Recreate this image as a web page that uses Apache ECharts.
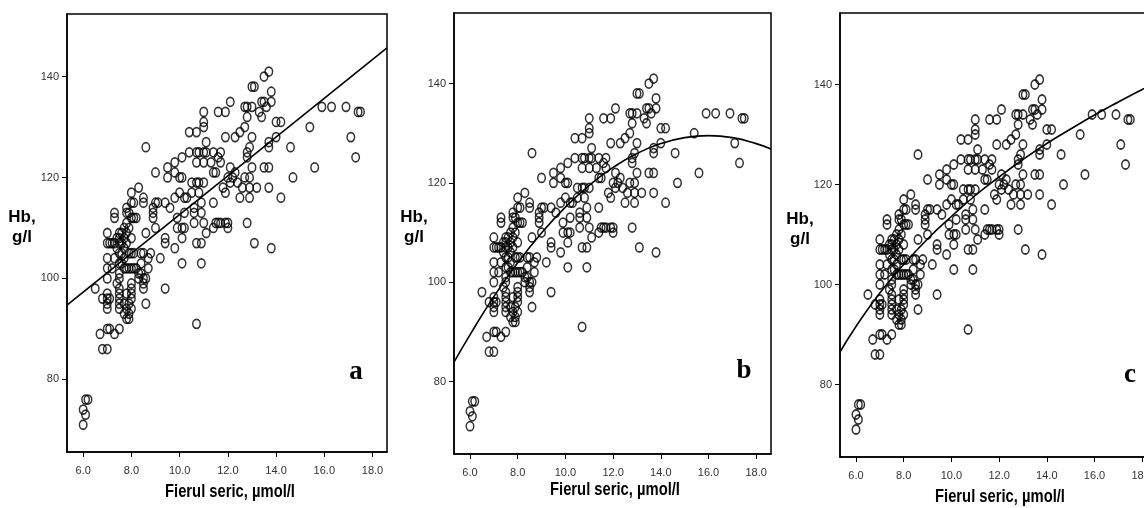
<!DOCTYPE html>
<html><head><meta charset="utf-8">
<script src="https://cdn.jsdelivr.net/npm/echarts@6/dist/echarts.min.js"></script>
<style>html,body{margin:0;padding:0;background:#fff}#c{width:1144px;height:508px}</style>
</head><body><div id="c"></div>
<script>
// Tick labels
const xTicks = [6, 8, 10, 12, 14, 16, 18];
const yTicks = [80, 100, 120, 140];
const panelLetters = ['a', 'b', 'c'];
const xTitle = 'Fierul seric, µmol/l';
const yTitle = 'Hb,\ng/l';

// Observations: [serum iron µmol/l, Hb g/l] (same data in all three panels)
const observations = [
[6.0,71],[6.0,74],[6.1,73],[6.1,76],[6.2,76],
[6.5,98],[6.7,89],[6.8,86],[7.0,86],[6.8,96],
[7.0,90],[7.1,90],[7.3,89],[7.5,90],
[7.0,94],[7.0,95],[7.0,96],[7.0,97],[7.0,100],[7.0,102],[7.0,104],[7.0,107],[7.0,109],
[7.1,96],[7.1,107],[7.2,107],[7.2,102],[7.3,113],[7.3,112],
[7.3,104],[7.3,107],[7.4,106],[7.4,108],[7.5,109],[7.5,108],[7.5,107],[7.5,105],[7.5,103],
[7.4,99],[7.5,101],[7.5,100],[7.5,98],[7.5,97],[7.5,96],[7.5,95],[7.5,94],
[7.6,109],[7.6,107],[7.6,105],[7.6,103],[7.7,108],[7.7,110],[7.7,106],[7.7,104],[7.7,102],
[7.7,93],[7.7,95],[7.8,113],[7.8,114],[7.8,111],[7.8,109],[7.8,107],[7.8,102],[7.8,97],
[7.8,94],[7.8,92],[7.9,92],[7.9,93],[7.9,95],[7.9,110],[7.9,113],[7.9,105],[7.9,102],
[8.0,117],[8.0,115],[8.0,112],[8.0,108],[8.0,105],[8.0,102],[8.0,99],[8.0,98],[8.0,97],
[8.0,96],[8.0,94],[8.1,102],[8.1,105],[8.1,112],[8.1,115],[8.2,112],[8.2,102],
[8.3,118],[8.3,101],[8.3,100],[8.4,103],[8.4,105],[8.4,101],[8.5,105],[8.5,100],[8.5,99],
[8.5,98],[8.5,116],[8.5,115],[8.6,95],[8.6,126],[8.6,100],[8.6,109],[8.7,102],[8.7,104],[8.8,105],
[8.9,114],[8.9,113],[8.9,112],[9.0,115],[9.0,121],[9.0,110],[9.1,115],[9.2,104],[9.4,98],
[9.4,115],[9.4,108],[9.4,107],[9.5,122],[9.5,120],[9.6,114],[9.8,116],[9.8,123],[9.8,121],
[9.9,112],[9.9,110],[9.8,106],[10.0,117],[10.0,120],[10.1,120],[10.1,124],[10.1,110],
[10.1,108],[10.1,103],[10.2,116],[10.2,113],[10.2,110],[10.3,116],[10.4,125],[10.4,129],
[10.5,119],[10.5,117],[10.6,114],[10.6,113],[10.6,111],[10.7,129],[10.7,125],[10.7,123],
[10.7,119],[10.7,107],[10.7,91],[10.8,125],[10.8,119],[10.8,117],[10.9,115],[10.9,113],
[10.9,107],[10.9,103],[11.0,133],[11.0,131],[11.0,130],[11.0,125],[11.0,123],[11.0,119],
[11.0,111],[11.1,127],[11.1,125],[11.1,109],[11.3,123],[11.4,125],[11.4,121],[11.4,115],
[11.4,110],[11.5,121],[11.5,111],[11.6,133],[11.6,124],[11.6,111],[11.7,125],[11.7,123],
[11.7,111],[11.8,118],[11.9,133],[11.9,128],[11.9,117],[11.9,111],[12.0,120],[12.0,111],
[12.0,110],[12.1,135],[12.1,122],[12.1,119],[12.2,120],[12.3,128],[12.3,121],[12.4,119],
[12.5,129],[12.5,116],[12.6,118],[12.7,134],[12.7,130],[12.7,120],[12.8,134],[12.8,132],
[12.8,125],[12.8,124],[12.8,111],[12.9,126],[12.9,118],[12.9,116],[12.9,120],[13.0,138],
[13.0,134],[13.0,128],[13.0,122],[13.1,138],[13.1,107],[13.2,118],[13.3,133],[13.4,132],
[13.4,135],[13.5,135],[13.5,140],[13.5,122],[13.6,134],[13.7,141],[13.7,127],[13.7,126],
[13.7,122],[13.7,118],[13.8,137],[13.8,135],[13.8,106],[14.0,131],[14.0,128],[14.2,131],
[14.2,116],[14.6,126],[14.7,120],[15.4,130],[15.6,122],[15.9,134],[16.3,134],[16.9,134],
[17.1,128],[17.3,124],[17.4,133],[17.5,133]
];

// Fitted curves: [iron, Hb]
const linearFit = [[5.33, 94.7], [18.6, 145.7]];
const quadraticFit = [[5.33,83.9],[6,89.4],[7,97.1],[8,103.9],[9,109.9],[10,115.1],[11,119.5],[12,123.1],[13,125.9],[14,127.9],[15,129.1],[16,129.5],[17,129.1],[18,127.9],[18.62,126.8]];
const logFit = [[5.33,86.5],[6,91.6],[7,98.3],[8,104.0],[9,109.1],[10,113.6],[11,117.8],[12,121.5],[13,125.0],[14,128.2],[15,131.1],[16,133.9],[17,136.5],[18,139.0],[18.7,140.6]];
const fits = [linearFit, quadraticFit, logFit];

// Layout per panel (pixels) and axis extents
const panels = [
  {left: 67, right: 757, top: 14, bottom: 56, xMin: 5.33, xMax: 18.6, yMin: 65.6, yMax: 152.4},
  {left: 454, right: 373, top: 13, bottom: 54, xMin: 5.33, xMax: 18.62, yMin: 65.4, yMax: 154.2},
  {left: 840, right: -13, top: 13, bottom: 51, xMin: 5.33, xMax: 18.62, yMin: 65.5, yMax: 154.3}
];
const titlePos = [
  {hbX: 22, hbY: 207, xNameX: 230, xNameY: 492, letterX: 356, letterY: 372},
  {hbX: 414, hbY: 207, xNameX: 615, xNameY: 490, letterX: 744, letterY: 371},
  {hbX: 800, hbY: 209, xNameX: 1000, xNameY: 497, letterX: 1130, letterY: 375}
];

const chart = echarts.init(document.getElementById('c'), null, {renderer: 'canvas'});
const grids = [], xAxes = [], yAxes = [], series = [], graphics = [];
panels.forEach((p, i) => {
  grids.push({left: p.left, right: p.right, top: p.top, bottom: p.bottom, show: true,
    borderColor: '#000', borderWidth: 1.5, backgroundColor: 'transparent', containLabel: false, outerBoundsMode: 'none'});
  xAxes.push({type: 'value', gridIndex: i, min: p.xMin, max: p.xMax,
    splitLine: {show: false},
    axisLine: {show: true, onZero: false, lineStyle: {color: '#000', width: 1.5}},
    axisTick: {show: true, inside: false, length: 5, customValues: xTicks, lineStyle: {color: '#000', width: 1}},
    axisLabel: {customValues: xTicks, formatter: v => v.toFixed(1), margin: 13, color: '#333',
      fontFamily: 'Liberation Sans', fontSize: 11}});
  yAxes.push({type: 'value', gridIndex: i, min: p.yMin, max: p.yMax,
    splitLine: {show: false},
    axisLine: {show: true, onZero: false, lineStyle: {color: '#000', width: 1.5}},
    axisTick: {show: true, inside: false, length: 5, customValues: yTicks, lineStyle: {color: '#000', width: 1}},
    axisLabel: {customValues: yTicks, formatter: v => String(v), margin: 8, color: '#333',
      fontFamily: 'Liberation Sans', fontSize: 11}});
  series.push({type: 'scatter', xAxisIndex: i, yAxisIndex: i, data: observations,
    symbol: 'circle', symbolSize: [7.5, 9], silent: true,
    itemStyle: {color: 'rgba(255,255,255,0)', borderColor: '#000', borderWidth: 1.6}});
  series.push({type: 'line', xAxisIndex: i, yAxisIndex: i, data: fits[i], smooth: i > 0,
    showSymbol: false, silent: true, clip: true, lineStyle: {color: '#000', width: 1.6}});
  const t = titlePos[i];
  graphics.push({type: 'text', x: t.hbX, y: t.hbY, style: {text: yTitle, align: 'center', verticalAlign: 'top',
    font: 'bold 17px "Liberation Sans"', fill: '#000', lineHeight: 20}});
  graphics.push({type: 'text', x: t.xNameX, y: t.xNameY, scaleX: 0.82,
    style: {text: xTitle, align: 'center', verticalAlign: 'middle', font: 'bold 18px "Liberation Sans"', fill: '#000'}});
  graphics.push({type: 'text', x: t.letterX, y: t.letterY, style: {text: panelLetters[i], align: 'center',
    verticalAlign: 'middle', font: 'bold 27px "Liberation Serif"', fill: '#000'}});
});

chart.setOption({animation: false, backgroundColor: '#fff', grid: grids, xAxis: xAxes, yAxis: yAxes,
  series: series, graphic: graphics});
</script></body></html>
